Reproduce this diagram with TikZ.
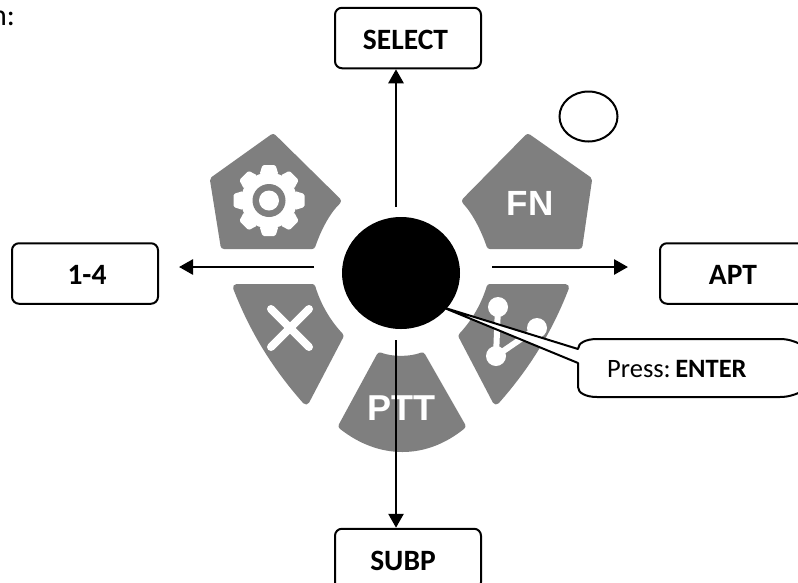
\documentclass[tikz,border=0pt]{standalone}
\usepackage{fontspec}
\setmainfont{Carlito}
\newfontfamily\iconfont{Liberation Sans}
\usetikzlibrary{arrows.meta,shapes.geometric}
\definecolor{padgray}{HTML}{7F7F7F}
\tikzset{
  labelbox/.style={draw=black,line width=2pt,rounded corners=7pt,fill=white,minimum width=146pt,minimum height=60.5pt,inner sep=0pt,text height=18pt,text depth=0pt,font=\fontsize{29.5}{32}\selectfont\bfseries},
  pad/.style={fill=padgray,draw=padgray,line width=7pt,line join=round},
  flow/.style={draw=black,line width=2.7pt,-{Triangle[length=14pt,width=15pt]}},
  glyph/.style={draw=white,line width=8pt,line cap=round},
  iconlabel/.style={text=white,inner sep=0pt,anchor=base},
  plain/.style={inner sep=0pt,anchor=base west,font=\fontsize{26.5}{30}\selectfont},
}
\begin{document}
\begin{tikzpicture}[x=1pt,y=-1pt]
\useasboundingbox (0,0) rectangle (798,582);
\fill[white] (0,0) rectangle (798,582);
\node[plain,font=\fontsize{30}{32}\selectfont] (frag) at (-9,25) {n:};
% pads
\path[pad] (273,137.5) -- (213.5,180) -- (224,245.5) -- (312,245.5) .. controls (318,228) and (327,211) .. (337.5,201) -- cycle;
\path[pad] (528,137.5) -- (588.5,180) -- (579,245.5) -- (490,245.5) .. controls (484,228) and (475,211) .. (465.5,201) -- cycle;
\path[pad] (236.5,287.5) -- (312,287.5) .. controls (317,304) and (326,321) .. (340,336) -- (306,401) .. controls (275,366) and (253,330) .. (236.5,287.5) -- cycle;
\path[pad] (565.5,287.5) -- (490,287.5) .. controls (485,304) and (476,321) .. (462,336) -- (496,401) .. controls (527,366) and (549,330) .. (565.5,287.5) -- cycle;
\path[pad] (380,356) .. controls (392,360.5) and (410,360.5) .. (422,356) -- (462,426) .. controls (425,456) and (380,456) .. (342,426) -- cycle;
% gear
\coordinate (gearc) at (269,200.5);
\fill[white] (gearc) circle [radius=28];
\foreach \a in {0,45,...,315}{
  \fill[white,rotate around={\a:(gearc)},rounded corners=1.5pt] ([shift={(-9.5,-26)}]gearc) -- ([shift={(-6.5,-35.5)}]gearc) -- ([shift={(6.5,-35.5)}]gearc) -- ([shift={(9.5,-26)}]gearc) -- cycle;
}
\fill[padgray] (gearc) circle [radius=16.5];
\fill[white] (gearc) circle [radius=10];
% cross
\coordinate (xa) at (271,309);\coordinate (xb) at (309,347);
\coordinate (xc) at (309,309);\coordinate (xd) at (271,347);
\draw[glyph] (xa) -- (xb);
\draw[glyph] (xc) -- (xd);
% branch
\coordinate (bra) at (498,307);\coordinate (brb) at (537,328);\coordinate (brc) at (496,356);
\draw[white,line width=6pt] (bra) -- (brc) -- (brb);
\fill[white] (bra) circle [radius=10];
\fill[white] (brb) circle [radius=10];
\fill[white] (brc) circle [radius=10];
% pad labels
\node[iconlabel,font=\iconfont\bfseries\fontsize{35}{38}\selectfont] (fn) at (530,215) {FN};
\node[iconlabel,font=\iconfont\bfseries\fontsize{36}{38}\selectfont] (ptt) at (401.5,420) {PTT};
% callout
\coordinate (tip) at (442,307);
\draw[fill=white,line width=2pt,line join=round] (tip) -- (578,349) .. controls (578,343) and (586,339) .. (597,339) -- (780,339) .. controls (790,339) and (798,342) .. (815,352) -- (815,385) .. controls (798,394) and (790,397) .. (780,397) -- (597,397) .. controls (586,397) and (578,393) .. (578,387) -- (578,363) -- cycle;
\node[plain] (press) at (607,377) {Press:\hspace{4.5pt}\textbf{ENTER}};
% knob and small circle
\node[ellipse,fill=black,minimum width=118pt,minimum height=112pt,inner sep=0pt] (knob) at (401,273) {};
\node[ellipse,draw=black,line width=2pt,minimum width=58pt,minimum height=50pt,inner sep=0pt] (ring) at (588.5,116.5) {};
% boxes
\node[labelbox] (select) at (408,38) {\hspace*{-5pt}\raisebox{-2pt}{SELECT}};
\node[labelbox] (one) at (85,273.5) {\hspace*{4pt}\raisebox{-2pt}{1-4}};
\node[labelbox] (apt) at (733,273.5) {\raisebox{-2pt}{APT}};
\node[labelbox] (subp) at (408,559) {\hspace*{-10pt}\raisebox{-2pt}{SUBP}};
% arrows
\coordinate (upstart) at (396,207);
\coordinate (downstart) at (396,340);
\coordinate (leftstart) at (314,267);
\coordinate (rightstart) at (492,267);
\coordinate (rightend) at (628,267);
\coordinate (leftend) at (179,267);
\draw[flow] (upstart) -- (upstart |- select.south);
\draw[flow] (downstart) -- (downstart |- subp.north);
\draw[flow] (leftstart) -- (leftend);
\draw[flow] (rightstart) -- (rightend);
\end{tikzpicture}
\end{document}
